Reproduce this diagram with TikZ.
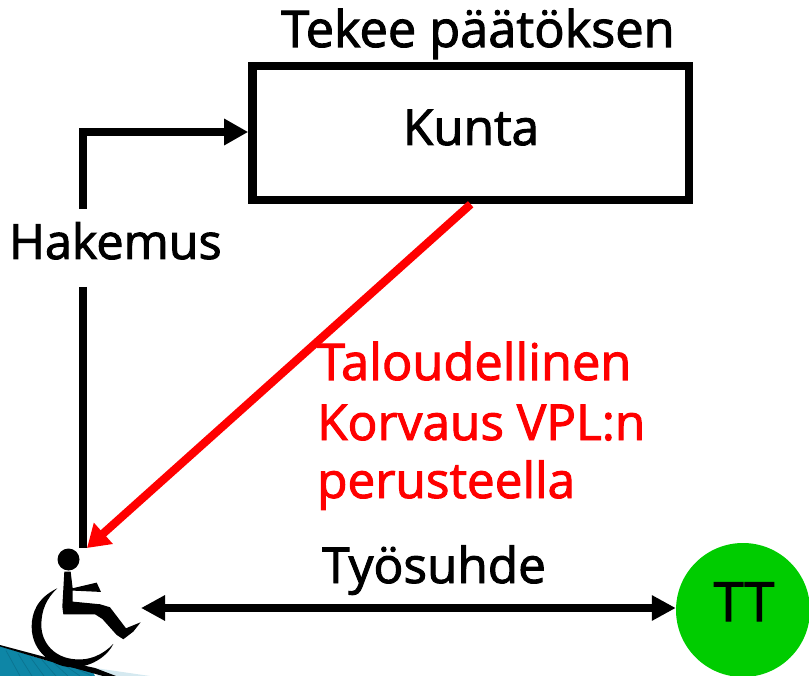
\documentclass[tikz,border=0pt]{standalone}
\usepackage{fontspec}
\setmainfont{Open Sans}[RawFeature={embolden=2}]
\usetikzlibrary{arrows.meta,calc}
\definecolor{ttgreen}{HTML}{00CC00}
\definecolor{rampteal}{HTML}{0E86A6}
\definecolor{rampdark}{HTML}{0B7390}
\definecolor{ramplight}{HTML}{D5E9F0}
\tikzset{
 lbl/.style={inner sep=0pt,anchor=base west,font=\fontsize{49.5}{49.5}\selectfont,text=black},
 redlbl/.style={lbl,text=red},
 conn/.style={line width=8.2pt,draw=black},
 head/.style={-{Triangle[length=24pt,width=25pt]}},
 dhead/.style={{Triangle[length=24pt,width=24pt]}-{Triangle[length=24pt,width=24pt]},line width=8pt},
 wc/.style={fill=black,draw=none}
}
\begin{document}
\begin{tikzpicture}[x=1pt,y=-1pt]
\useasboundingbox (0,0) rectangle (809,676);
% ramp
\fill[ramplight] (88,667) -- (150,676) -- (98,676) -- cycle;
\fill[rampteal] (0,646) -- (45,660) -- (92,670) -- (95,676) -- (0,676) -- cycle;
\foreach \xa in {6,18,30,42,54,66,78}{\draw[rampdark,line width=0.7pt] (\xa,649+\xa*0.26) -- (\xa+14,676);}
\fill[black] (0,645) -- (45,657) -- (95,668) -- (116,676) -- (103,676) -- (45,660) -- (0,646.5) -- cycle;
% box
\node[draw=black,line width=8.5pt,minimum width=436.5pt,minimum height=134pt,inner sep=0pt] (kunta) at (470.7,133) {};
\node[lbl,anchor=base] (kuntatxt) at (471,145) {Kunta};
\node[lbl,anchor=base,font=\fontsize{50.5}{50.5}\selectfont] (paatos) at (478,47) {Tekee päätöksen};
% wheelchair
\fill[wc] (68.5,559.5) circle (11);
\begin{scope}[x=0.3333pt,y=-0.3333pt,shift={(0,1560)}]
\fill[wc] (193,155) -- (212,155) -- (218,205) -- (290,188) -- (303,216) -- (218,212) -- (218,245) -- (300,253) -- (330,262) -- (378,325) -- (422,307) -- (400,335) -- (370,358) -- (350,345) -- (307,297) -- (285,283) -- (190,283) -- (187,260) -- cycle;
\fill[wc] (172,205) .. controls (110,235) and (95,280) .. (95,320) .. controls (95,400) and (165,445) .. (225,442) .. controls (280,439) and (325,405) .. (340,372) .. controls (305,408) and (265,422) .. (225,418) .. controls (165,414) and (124,370) .. (124,315) .. controls (124,270) and (140,235) .. cycle;
\end{scope}
% connectors
\coordinate (wheelTop) at (83,548);
\coordinate (wheelRight) at (141,608);
\coordinate (wheelHead) at (87,548);
\node[circle,fill=ttgreen,minimum size=134pt,inner sep=0pt] (tt) at (743,610) {};
\node[lbl,anchor=base,font=\fontsize{54}{54}\selectfont] (tttxt) at (744,621) {TT};
\node[lbl,font=\fontsize{48.5}{48.5}\selectfont] (hakemus) at (9,259) {Hakemus};
\coordinate (hakT) at (83,209);
\coordinate (hakB) at (83,287);
\draw[conn,head] (hakT) -- ++(0,-77) -- (kunta.west |- 0,132);
\draw[conn] (hakB) -- (wheelTop);
\draw[conn,draw=red,-{Triangle[length=22pt,width=27pt]}] (kunta.south) -- (wheelHead);
\draw[dhead] (wheelRight) -- (tt.west |- 0,608);
\node[lbl] (tyosuhde) at (322,583) {Työsuhde};
\node[redlbl,font=\fontsize{50.5}{50.5}\selectfont] (l1) at (317,380) {Taloudellinen};
\node[redlbl] (l2) at (317,440) {Korvaus VPL:n};
\node[redlbl] (l3) at (317,498) {perusteella};
\end{tikzpicture}
\end{document}
